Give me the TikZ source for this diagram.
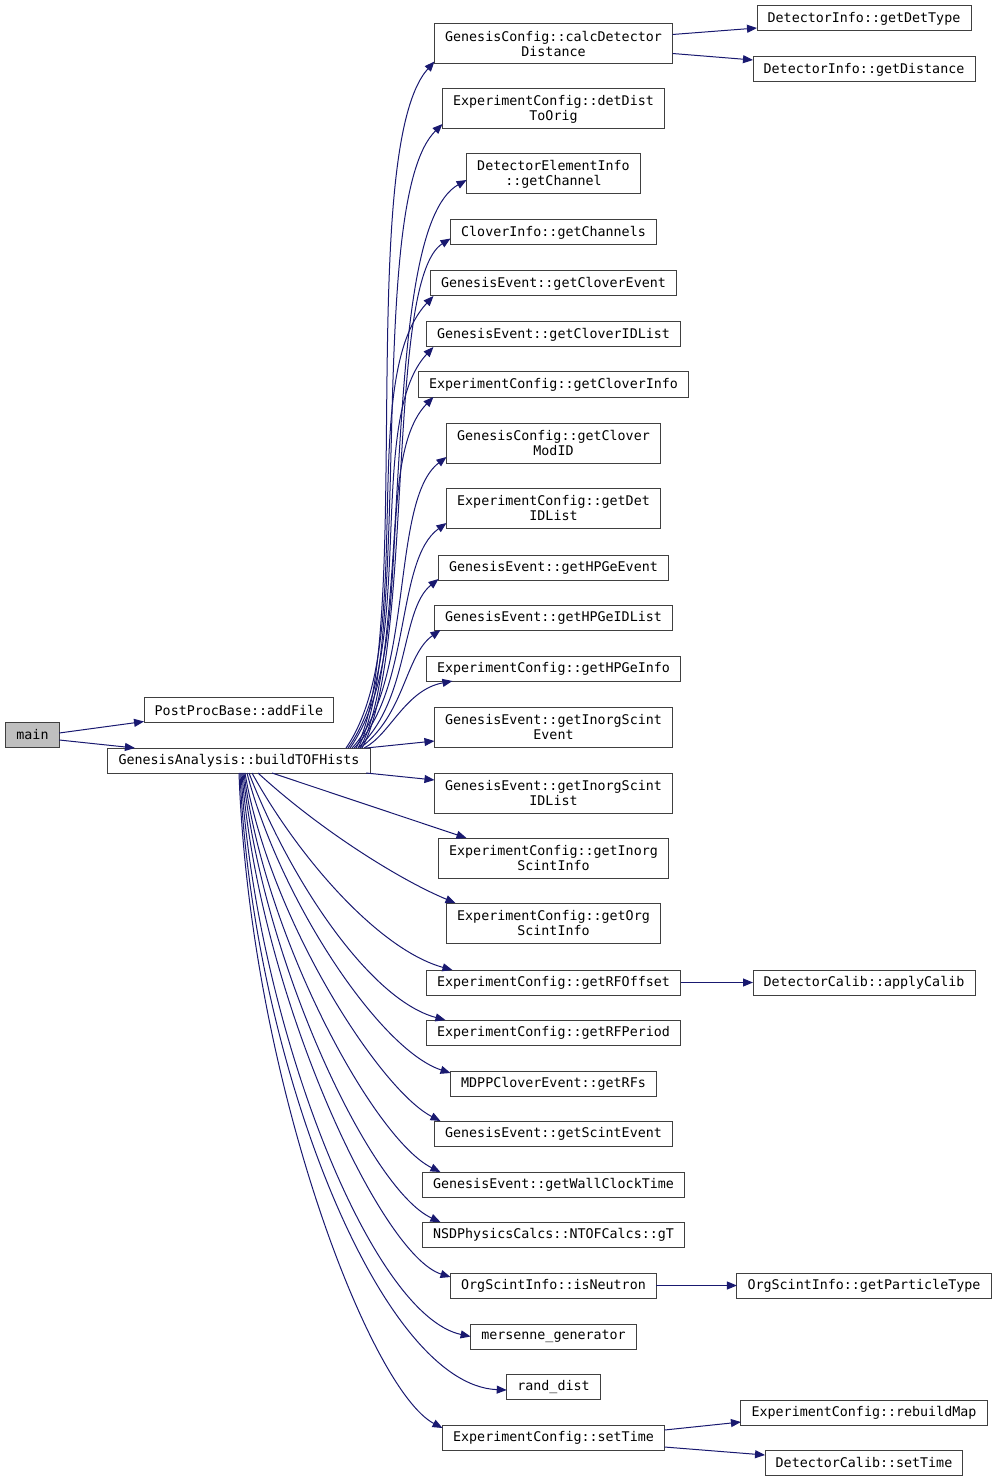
\documentclass[tikz,border=0pt]{standalone}
\usepackage{fontspec}
\setmonofont{DejaVu Sans Mono}
\definecolor{edgeblue}{RGB}{25, 25, 112}
\definecolor{boxgray}{RGB}{64, 64, 64}
\definecolor{rootgray}{RGB}{191, 191, 191}
\usepackage{tikz}
\usetikzlibrary{arrows.meta, positioning, calc}

\begin{document}
\begin{tikzpicture}[x=0.75pt, y=-0.75pt,
    fn/.style={draw=boxgray, line width=0.75pt, fill=white, font=\ttfamily\fontsize{10}{11.25}\selectfont,
      inner xsep=8pt, inner ysep=1pt, outer sep=0pt, minimum height=18.75pt, align=center},
    fn2/.style={fn, minimum height=30pt},
    call/.style={draw=edgeblue, line width=0.75pt, -{Triangle[length=7.5pt, width=6pt]}}]
  \useasboundingbox (0,0) rectangle (997,1483);

  % Caller
  \node[fn, fill=rootgray] (main) at (32.5, 735) {main};
  \node[fn] (addFile) at (239, 710) {PostProcBase::addFile};
  \node[fn] (build) at (239, 760.5) {GenesisAnalysis::buildTOFHists};

  % Callees of buildTOFHists
  \node[fn2] (calcDist) at (553.5, 43.5) {GenesisConfig::calcDetector\\Distance};
  \node[fn2] (detDist) at (553.5, 109) {ExperimentConfig::detDist\\ToOrig};
  \node[fn2] (getChannel) at (553.5, 174) {DetectorElementInfo\\::getChannel};
  \node[fn] (getChannels) at (553.5, 232.5) {CloverInfo::getChannels};
  \node[fn] (cloverEvt) at (553.5, 283.5) {GenesisEvent::getCloverEvent};
  \node[fn] (cloverIDs) at (553.5, 334.5) {GenesisEvent::getCloverIDList};
  \node[fn] (cloverInfo) at (553.5, 384.5) {ExperimentConfig::getCloverInfo};
  \node[fn2] (cloverMod) at (553.5, 443) {GenesisConfig::getClover\\ModID};
  \node[fn2] (detIDs) at (553.5, 508) {ExperimentConfig::getDet\\IDList};
  \node[fn] (hpgeEvt) at (553.5, 567.5) {GenesisEvent::getHPGeEvent};
  \node[fn] (hpgeIDs) at (553.5, 617.5) {GenesisEvent::getHPGeIDList};
  \node[fn] (hpgeInfo) at (553.5, 668.5) {ExperimentConfig::getHPGeInfo};
  \node[fn2] (inorgEvt) at (553.5, 727) {GenesisEvent::getInorgScint\\Event};
  \node[fn2] (inorgIDs) at (553.5, 793) {GenesisEvent::getInorgScint\\IDList};
  \node[fn2] (inorgInfo) at (553.5, 858) {ExperimentConfig::getInorg\\ScintInfo};
  \node[fn2] (orgInfo) at (553.5, 923) {ExperimentConfig::getOrg\\ScintInfo};
  \node[fn] (rfOffset) at (553.5, 982.5) {ExperimentConfig::getRFOffset};
  \node[fn] (rfPeriod) at (553.5, 1032.5) {ExperimentConfig::getRFPeriod};
  \node[fn] (getRFs) at (553.5, 1083.5) {MDPPCloverEvent::getRFs};
  \node[fn] (scintEvt) at (553.5, 1133.5) {GenesisEvent::getScintEvent};
  \node[fn] (wallClock) at (553.5, 1184.5) {GenesisEvent::getWallClockTime};
  \node[fn] (gT) at (553.5, 1234.5) {NSDPhysicsCalcs::NTOFCalcs::gT};
  \node[fn] (isNeutron) at (553.5, 1285.5) {OrgScintInfo::isNeutron};
  \node[fn] (mersenne) at (553.5, 1336.5) {mersenne\_generator};
  \node[fn] (randDist) at (553.5, 1387) {rand\_dist};
  \node[fn] (setTime) at (553.5, 1437.5) {ExperimentConfig::setTime};

  % Third level
  \node[fn] (detType) at (864, 18.5) {DetectorInfo::getDetType};
  \node[fn] (getDistance) at (864, 69.5) {DetectorInfo::getDistance};
  \node[fn] (applyCalib) at (864, 982.5) {DetectorCalib::applyCalib};
  \node[fn] (particleType) at (864, 1285.5) {OrgScintInfo::getParticleType};
  \node[fn] (rebuildMap) at (864, 1412.5) {ExperimentConfig::rebuildMap};
  \node[fn] (dcSetTime) at (864, 1462.5) {DetectorCalib::setTime};

  % main
  \draw[call] ($(main.east)+(0,-2)$) -- ($(addFile.south west)+(0,-1)$);
  \draw[call] ($(main.east)+(0,5)$) -- ($(build.north west)+(27,0)$);

  % upward calls
  \draw[call] ($(build.north east)+(-14,0)$) .. controls (415,640) and (355,150) .. ($(calcDist.south west)+(0,-2)$);
  \draw[call] ($(build.north east)+(-12,0)$) .. controls (415,640) and (365,200) .. ($(detDist.south west)+(0,-5)$);
  \draw[call] ($(build.north east)+(-10,0)$) .. controls (415,650) and (378,230) .. ($(getChannel.west)+(0,6)$);
  \draw[call] ($(build.north east)+(-8,0)$) .. controls (415,650) and (385,280) .. ($(getChannels.west)+(0,6)$);
  \draw[call] ($(build.north east)+(-24,0)$) .. controls (420,640) and (355,380) .. ($(cloverEvt.south west)+(3,0)$);
  \draw[call] ($(build.north east)+(-22,0)$) .. controls (418,650) and (365,420) .. ($(cloverIDs.south west)+(7,0)$);
  \draw[call] ($(build.north east)+(-20,0)$) .. controls (418,650) and (372,460) .. ($(cloverInfo.south west)+(15,0)$);
  \draw[call] ($(build.north east)+(-18,0)$) .. controls (415,680) and (390,500) .. ($(cloverMod.south west)+(0,-6)$);
  \draw[call] ($(build.north east)+(-16,0)$) .. controls (412,690) and (395,560) .. ($(detIDs.south west)+(0,-5)$);
  \draw[call] ($(build.north east)+(-12,0)$) .. controls (410,700) and (400,610) .. ($(hpgeEvt.south west)+(0,-1)$);
  \draw[call] ($(build.north east)+(-10,0)$) .. controls (405,715) and (405,655) .. ($(hpgeIDs.south west)+(6,0)$);
  \draw[call] ($(build.north east)+(-6,0)$) .. controls (390,735) and (405,690) .. ($(hpgeInfo.south west)+(26,0)$);
  \draw[call] ($(build.north east)+(-4,0)$) -- ($(inorgEvt.south west)+(0,-6)$);
  \draw[call] ($(build.south east)+(-4,0)$) -- ($(inorgIDs.north west)+(0,7)$);

  % downward calls
  \draw[call] ($(build.south)+(33,0)$) -- ($(inorgInfo.north west)+(28,0)$);
  \draw[call] ($(build.south)+(19,0)$) .. controls (320,830) and (400,880) .. ($(orgInfo.north west)+(9,0)$);
  \draw[call] ($(build.south)+(13,0)$) .. controls (300,860) and (380,950) .. ($(rfOffset.north west)+(26,0)$);
  \draw[call] ($(build.south)+(10,0)$) .. controls (290,880) and (370,1000) .. ($(rfPeriod.north west)+(19,0)$);
  \draw[call] ($(build.south)+(8,0)$) .. controls (280,900) and (380,1050) .. ($(getRFs.north west)+(0,2)$);
  \draw[call] ($(build.south)+(6,0)$) .. controls (270,920) and (380,1090) .. ($(scintEvt.north west)+(6,0)$);
  \draw[call] ($(build.south)+(5,0)$) .. controls (265,940) and (375,1140) .. ($(wallClock.north west)+(18,0)$);
  \draw[call] ($(build.south)+(4,0)$) .. controls (262,960) and (370,1190) .. ($(gT.north west)+(18,0)$);
  \draw[call] ($(build.south)+(3,0)$) .. controls (258,990) and (380,1255) .. ($(isNeutron.north west)+(0,4)$);
  \draw[call] ($(build.south)+(2,0)$) .. controls (255,1020) and (370,1315) .. (mersenne.west);
  \draw[call] ($(build.south)+(1,0)$) .. controls (252,1060) and (380,1385) .. ($(randDist.west)+(0,3)$);
  \draw[call] (build.south) .. controls (250,1080) and (370,1390) .. ($(setTime.north west)+(0,3)$);

  % third level calls
  \draw[call] ($(calcDist.east)+(0,-9)$) -- ($(detType.south west)+(0,-3)$);
  \draw[call] ($(calcDist.east)+(0,10)$) -- ($(getDistance.north west)+(0,3)$);
  \draw[call] (rfOffset) -- (applyCalib);
  \draw[call] (isNeutron) -- (particleType);
  \draw[call] ($(setTime.north east)+(0,5)$) -- ($(rebuildMap.south west)+(0,-3)$);
  \draw[call] ($(setTime.south east)+(0,-3)$) -- ($(dcSetTime.north west)+(0,5)$);
\end{tikzpicture}
\end{document}
